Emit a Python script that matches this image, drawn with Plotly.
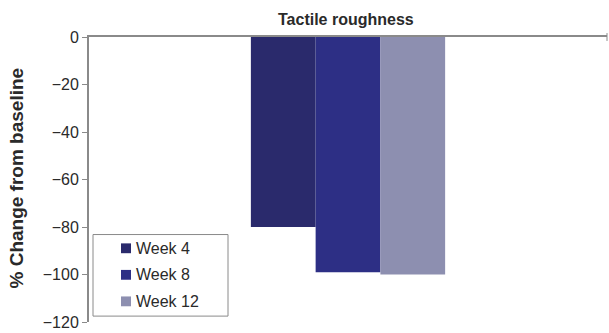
import plotly.graph_objects as go

# Data
category = ["Tactile roughness"]
series_names = ["Week 4", "Week 8", "Week 12"]
series_values = [[-80], [-99], [-100]]
series_colors = ["#2a2a6c", "#2d2f85", "#8d8fb0"]
y_ticks = [0, -20, -40, -60, -80, -100, -120]

W, H = 609, 333
ML, MR, MT, MB = 89, 2, 37, 6
plot_w = W - ML - MR
plot_h = H - MT - MB

fig = go.Figure()
for name, vals, col in zip(series_names, series_values, series_colors):
    fig.add_trace(go.Bar(
        x=category, y=vals, name=name,
        marker=dict(color=col, line=dict(width=0)),
        showlegend=False,
    ))

fig.update_layout(
    width=W, height=H,
    margin=dict(l=ML, r=MR, t=MT, b=MB),
    paper_bgcolor="white", plot_bgcolor="white",
    barmode="group", bargap=0.625, bargroupgap=0,
    font=dict(family="Arial, Liberation Sans, sans-serif", color="#333333"),
    xaxis=dict(
        side="top", showline=True, linecolor="#8a8a8a", linewidth=2,
        showticklabels=False, ticks="", showgrid=False, zeroline=False,
        range=[-0.5, 0.5],
    ),
    yaxis=dict(
        range=[-120, 0], tickvals=y_ticks,
        showline=True, linecolor="#8a8a8a", linewidth=2,
        ticks="outside", ticklen=5, tickcolor="#8a8a8a", tickwidth=1,
        showgrid=False, zeroline=False, ticklabeloverflow="allow",
        tickfont=dict(size=16, color="#2a2a2a"),
    ),
)

def px_x(px):
    return (px - ML) / plot_w

def px_y(py):
    return (H - MB - py) / plot_h

# Chart title
fig.add_annotation(
    text="<b>Tactile roughness</b>", xref="paper", yref="paper",
    x=px_x(346), y=px_y(19), xanchor="center", yanchor="middle",
    showarrow=False, font=dict(size=16, color="#2a2a2a"),
)

# Y axis title
fig.add_annotation(
    text="<b>% Change from baseline</b>", xref="paper", yref="paper",
    x=px_x(17), y=px_y(181), xanchor="center", yanchor="middle",
    textangle=-90, showarrow=False, font=dict(size=19, color="#2a2a2a"),
)

# Small end tick on the zero line
fig.add_shape(
    type="line", xref="paper", yref="paper",
    x0=1, x1=1, y0=px_y(33), y1=px_y(41),
    line=dict(color="#8a8a8a", width=1),
)

# Legend box
fig.add_shape(
    type="rect", xref="paper", yref="paper",
    x0=px_x(93), x1=px_x(228), y0=px_y(321), y1=px_y(238),
    line=dict(color="#8a8a8a", width=1), fillcolor="white", layer="above",
)
for i, (name, col) in enumerate(zip(series_names, series_colors)):
    cy = 252 + 27 * i
    fig.add_shape(
        type="rect", xref="paper", yref="paper",
        x0=px_x(121), x1=px_x(131), y0=px_y(cy + 5), y1=px_y(cy - 5),
        line=dict(width=0), fillcolor=col, layer="above",
    )
    fig.add_annotation(
        text=name, xref="paper", yref="paper",
        x=px_x(134), y=px_y(cy), xanchor="left", yanchor="middle",
        showarrow=False, font=dict(size=16, color="#2a2a2a"),
    )

fig.write_html("out.html")
